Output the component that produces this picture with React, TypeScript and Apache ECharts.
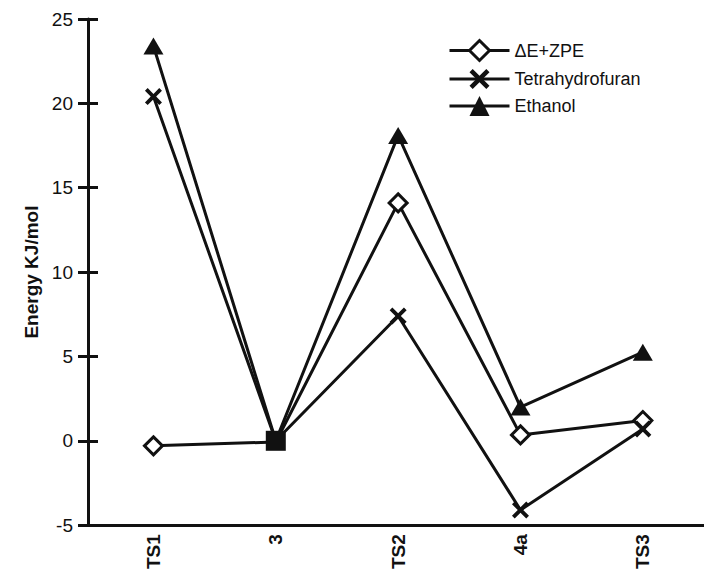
import React, { useEffect, useRef } from "react";
import * as echarts from "echarts";

const categories = ["TS1", "3", "TS2", "4a", "TS3"];
const deZpe = [-0.3, -0.07, 14.1, 0.35, 1.2];
const thf = [20.4, 0, 7.4, -4.1, 0.7];
const ethanol = [23.4, 0, 18.1, 2.0, 5.25];
const yTicks = { min: -5, max: 25, interval: 5 };
const seriesNames = ["ΔE+ZPE", "Tetrahydrofuran", "Ethanol"];

const FONT = "'Liberation Sans', Arial, Helvetica, sans-serif";
const INK = "#111";
const LW = 3;
const X_PATH =
  "path://M0,1.6 L1.6,0 L5,3.4 L8.4,0 L10,1.6 L6.6,5 L10,8.4 L8.4,10 L5,6.6 L1.6,10 L0,8.4 L3.4,5 Z";

function toPoints(vals: number[], centerIdx: number, centerSymbol: boolean) {
  return vals.map((v, i) => {
    if (i === centerIdx) {
      return centerSymbol
        ? { value: [i, v], symbol: "rect", symbolSize: 20, itemStyle: { color: INK, borderWidth: 0 } }
        : { value: [i, v], symbol: "none" };
    }
    return [i, v];
  });
}

export default function App() {
  const ref = useRef<HTMLDivElement>(null);
  useEffect(() => {
    if (!ref.current) return;
    const chart = echarts.init(ref.current, null, { renderer: "svg" });
    const yBase = {
      type: "value",
      min: yTicks.min,
      max: yTicks.max,
      interval: yTicks.interval,
      splitLine: { show: false },
    };
    chart.setOption({
      animation: false,
      backgroundColor: "#fff",
      textStyle: { fontFamily: FONT, color: INK },
      grid: { left: 88, right: 0, top: 19, bottom: 44, containLabel: false },
      legend: {
        left: 443,
        top: 34,
        orient: "vertical",
        itemWidth: 60,
        itemHeight: 25,
        itemGap: 7,
        lineStyle: { width: LW, color: INK },
        textStyle: { fontFamily: FONT, fontSize: 18, color: INK },
        data: [
          { name: seriesNames[0], itemStyle: { color: "#fff", borderColor: INK, borderWidth: 3 } },
          { name: seriesNames[1], itemStyle: { color: INK, borderWidth: 0 } },
          { name: seriesNames[2], itemStyle: { color: INK, borderWidth: 0 } },
        ],
      },
      xAxis: {
        type: "value",
        min: -0.535,
        max: 4.5,
        splitLine: { show: false },
        axisTick: { show: false },
        axisLine: { onZero: false, lineStyle: { color: INK, width: LW } },
        axisLabel: {
          customValues: [0, 1, 2, 3, 4],
          formatter: (v: number) => categories[Math.round(v)] ?? "",
          rotate: 90,
          margin: 9,
          fontSize: 19,
          fontWeight: "bold",
          fontFamily: FONT,
          color: INK,
        },
      },
      yAxis: [
        {
          ...yBase,
          name: "Energy KJ/mol",
          nameLocation: "middle",
          nameGap: 40,
          nameTextStyle: { fontSize: 19, fontWeight: "bold", fontFamily: FONT, color: INK },
          axisLine: { onZero: false, lineStyle: { color: INK, width: LW } },
          axisTick: { length: 10, lineStyle: { color: INK, width: LW } },
          axisLabel: { fontSize: 19, margin: 15, fontFamily: FONT, color: INK },
        },
        {
          ...yBase,
          position: "left",
          axisLine: { show: false, onZero: false },
          axisTick: { show: true, inside: true, length: 10, lineStyle: { color: INK, width: LW } },
          axisLabel: { show: false },
        },
      ],
      series: [
        {
          name: seriesNames[0],
          type: "line",
          data: toPoints(deZpe, 1, false),
          symbol: "diamond",
          symbolSize: 18,
          showAllSymbol: true,
          lineStyle: { color: INK, width: LW },
          itemStyle: { color: "#fff", borderColor: INK, borderWidth: 3 },
          z: 3,
        },
        {
          name: seriesNames[1],
          type: "line",
          data: toPoints(thf, 1, false),
          symbol: X_PATH,
          symbolSize: 17,
          showAllSymbol: true,
          lineStyle: { color: INK, width: LW },
          itemStyle: { color: INK, borderWidth: 0 },
          z: 3,
        },
        {
          name: seriesNames[2],
          type: "line",
          data: toPoints(ethanol, 1, true),
          symbol: "triangle",
          symbolSize: [20, 17],
          showAllSymbol: true,
          lineStyle: { color: INK, width: LW },
          itemStyle: { color: INK, borderWidth: 0 },
          z: 4,
        },
      ],
    });
    return () => chart.dispose();
  }, []);
  return (
    <div
      ref={ref}
      style={{ position: "fixed", left: 0, top: 0, width: 704, height: 572, background: "#fff" }}
    />
  );
}
